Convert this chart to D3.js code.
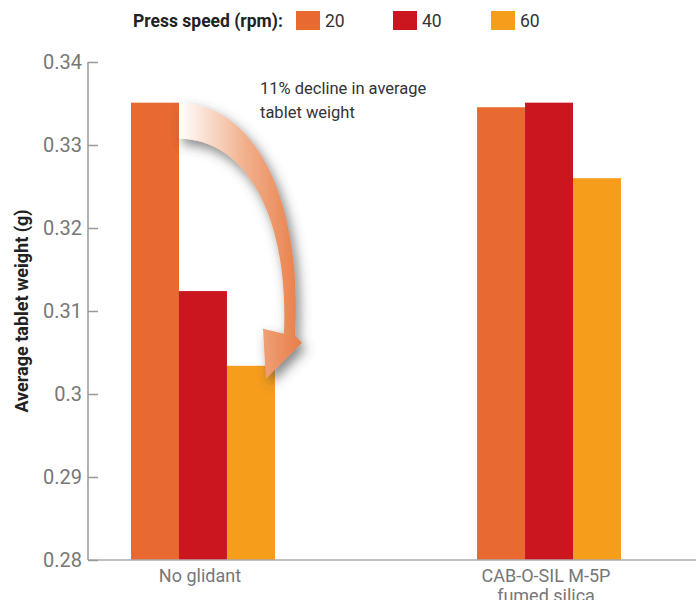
<!DOCTYPE html>
<html><head><meta charset="utf-8">
<script src="https://cdn.jsdelivr.net/npm/d3@7"></script>
<style>body{margin:0;background:#fff}svg{display:block}</style>
</head><body>
<svg id="c" width="696" height="600"></svg>
<script>
const categories = ["No glidant", "CAB-O-SIL M-5P\nfumed silica"];
const speeds = ["20", "40", "60"];
const speed20 = [0.3351, 0.33455];
const speed40 = [0.3124, 0.3351];
const speed60 = [0.3034, 0.3260];
const yTicks = [0.28, 0.29, 0.30, 0.31, 0.32, 0.33, 0.34];
const yTickLabels = ["0.28", "0.29", "0.3", "0.31", "0.32", "0.33", "0.34"];
const colors = ["#E86A30", "#CC161F", "#F69D1C"];
const seriesValues = [speed20, speed40, speed60];

const svg = d3.select("#c");
const font = "Roboto, 'Liberation Sans', sans-serif";

const y = d3.scaleLinear().domain([0.28, 0.34]).range([560, 62]);
const x = d3.scaleBand().domain(categories).range([131, 621]).paddingInner(0.584).paddingOuter(0);
const xs = d3.scaleBand().domain(speeds).range([0, x.bandwidth()]);

// bars
categories.forEach((cat, ci) => {
  speeds.forEach((s, si) => {
    const v = seriesValues[si][ci];
    svg.append("rect")
      .attr("x", x(cat) + xs(s))
      .attr("y", y(v))
      .attr("width", xs.bandwidth())
      .attr("height", y(0.28) - y(v))
      .attr("fill", colors[si]);
  });
});

// x axis baseline
svg.append("line").attr("x1", 88).attr("x2", 696).attr("y1", y(0.28)).attr("y2", y(0.28))
  .attr("stroke", "#aaa").attr("stroke-width", 1.5);

// y axis
const yAxis = d3.axisRight(y).tickValues(yTicks).tickSize(10).tickFormat(() => "");
const gy = svg.append("g").attr("transform", "translate(88,0)").call(yAxis);
gy.select(".domain").attr("stroke", "#999").attr("stroke-width", 1.5).attr("d", `M0,${y(0.34)}V${y(0.28)}`);
gy.selectAll(".tick line").attr("stroke", "#999").attr("stroke-width", 1.5);
yTicks.forEach((t, i) => {
  svg.append("text").attr("x", 82).attr("y", y(t)).attr("dy", "0.36em")
    .attr("text-anchor", "end").attr("font-family", font).attr("font-size", 20)
    .attr("fill", "#777").text(yTickLabels[i]);
});

// y axis title
svg.append("text").attr("transform", `translate(28,${(y(0.28)+y(0.34))/2}) rotate(-90)`)
  .attr("text-anchor", "middle").attr("font-family", font).attr("font-weight", "bold")
  .attr("font-size", 18).attr("fill", "#222").text("Average tablet weight (g)");

// category labels
categories.forEach(cat => {
  const lines = cat.split("\n");
  lines.forEach((ln, li) => {
    svg.append("text").attr("x", x(cat) + x.bandwidth() / 2 - 3).attr("y", 582 + li * 20)
      .attr("text-anchor", "middle").attr("font-family", font).attr("font-size", 18)
      .attr("fill", "#777").text(ln);
  });
});

// legend
svg.append("text").attr("x", 133).attr("y", 27).attr("font-family", font).attr("font-weight", "bold")
  .attr("font-size", 17.5).attr("fill", "#222").text("Press speed (rpm):");
const legX = [296, 393, 491];
speeds.forEach((s, i) => {
  svg.append("rect").attr("x", legX[i]).attr("y", 11).attr("width", 24).attr("height", 19).attr("fill", colors[i]);
  svg.append("text").attr("x", legX[i] + 29).attr("y", 27).attr("font-family", font)
    .attr("font-size", 17.5).attr("fill", "#333").text(s);
});

// annotation arrow
const defs = svg.append("defs");
const x0 = x(categories[0]) + xs.bandwidth();
const yStart = y(speed20[0]);
const tipX = x(categories[0]) + xs("60") + xs.bandwidth() / 2 + 15;
const tipY = y(speed60[0]) + 13;
const grad = defs.append("linearGradient").attr("id", "ag").attr("gradientUnits", "userSpaceOnUse")
  .attr("x1", x0).attr("x2", x0 + 120).attr("y1", 0).attr("y2", 0);
grad.append("stop").attr("offset", 0).attr("stop-color", "#ffffff");
grad.append("stop").attr("offset", 0.55).attr("stop-color", "#f2b08c");
grad.append("stop").attr("offset", 1).attr("stop-color", "#e8804a");
const f = defs.append("filter").attr("id", "sh").attr("x", "-30%").attr("y", "-30%").attr("width", "160%").attr("height", "160%");
f.append("feDropShadow").attr("dx", 4).attr("dy", 6).attr("stdDeviation", 6)
  .attr("flood-color", "#444").attr("flood-opacity", 0.65);
const p = d3.path();
p.moveTo(x0, yStart);
p.bezierCurveTo(x0 + 72, yStart, x0 + 124, yStart + 90, x0 + 116, yStart + 233);
p.lineTo(tipX + 36, tipY - 36);
p.lineTo(tipX, tipY);
p.lineTo(tipX - 3, tipY - 50);
p.lineTo(x0 + 105, yStart + 231);
p.bezierCurveTo(x0 + 110, yStart + 110, x0 + 65, yStart + 36, x0, yStart + 36);
p.closePath();
svg.append("path").attr("d", p.toString()).attr("fill", "url(#ag)").attr("filter", "url(#sh)");

svg.append("text").attr("x", 260).attr("y", 94).attr("font-family", font).attr("font-size", 16.5)
  .attr("fill", "#333").text("11% decline in average");
svg.append("text").attr("x", 260).attr("y", 118).attr("font-family", font).attr("font-size", 16.5)
  .attr("fill", "#333").text("tablet weight");
</script>
</body></html>
